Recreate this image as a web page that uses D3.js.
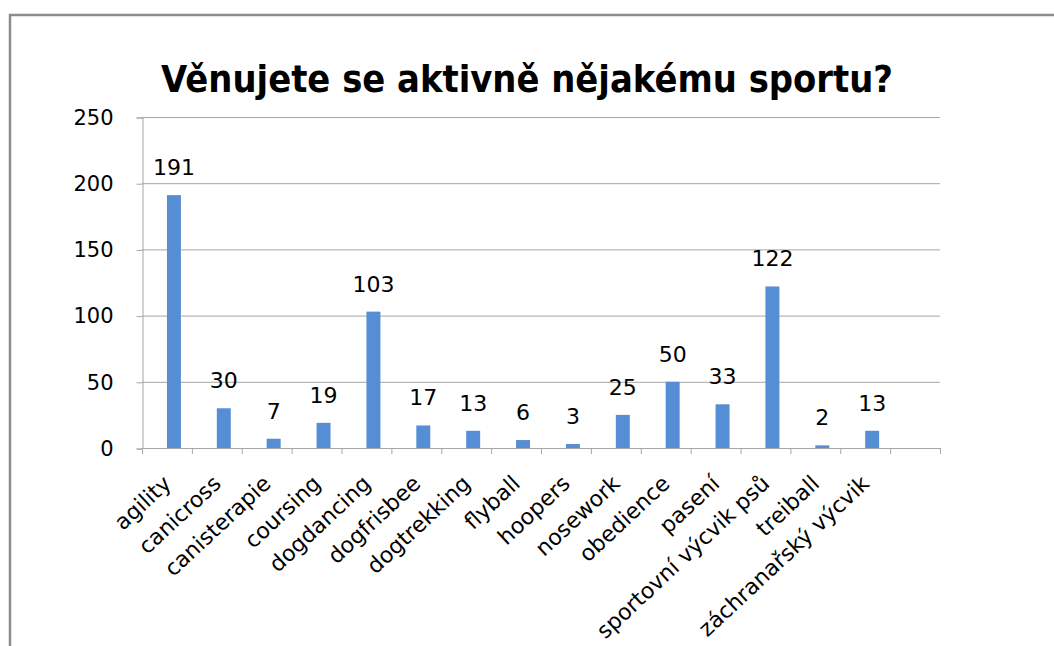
<!DOCTYPE html>
<html>
<head>
<meta charset="utf-8">
<script src="https://cdn.jsdelivr.net/npm/d3@7"></script>
<style>
    body { margin: 0; background: #fff; }
    svg { display: block; }
</style>
</head>
<body>
<div id="chart"></div>
<script>
// chart data
const categories = ['agility', 'canicross', 'canisterapie', 'coursing', 'dogdancing', 'dogfrisbee',
    'dogtrekking', 'flyball', 'hoopers', 'nosework', 'obedience', 'pasení', 'sportovní výcvik psů',
    'treiball', 'záchranařský výcvik', ''];
const counts = [191, 30, 7, 19, 103, 17, 13, 6, 3, 25, 50, 33, 122, 2, 13, null];
const yTicks = [0, 50, 100, 150, 200, 250];
const title = 'Věnujete se aktivně nějakému sportu?';

const data = categories.map((name, i) => ({ name, value: counts[i] }));

const width = 1054;
const height = 646;
const marginTop = 117;
const marginRight = 114;
const marginBottom = 198;
const marginLeft = 142;
const font = 'DejaVu Sans, sans-serif';

const x = d3.scaleBand()
    .domain(categories)
    .range([marginLeft, width - marginRight])
    .padding(0);

const y = d3.scaleLinear()
    .domain([0, 250])
    .range([height - marginBottom, marginTop]);

const svg = d3.select('#chart').append('svg')
    .attr('width', width)
    .attr('height', height)
    .attr('viewBox', [0, 0, width, height]);

// outer frame (top and left edge visible)
svg.append('path')
    .attr('d', `M10,${height}V15H${width}`)
    .attr('fill', 'none')
    .attr('stroke', '#8c8c8c')
    .attr('stroke-width', 2.5);

// title
svg.append('text')
    .attr('x', 527)
    .attr('y', 92)
    .attr('text-anchor', 'middle')
    .attr('font-family', font)
    .attr('font-weight', 'bold')
    .attr('font-size', 38)
    .attr('textLength', 732)
    .attr('lengthAdjust', 'spacingAndGlyphs')
    .attr('fill', '#000')
    .text(title);

// gridlines
svg.append('g')
    .selectAll('line')
    .data(yTicks.filter(t => t > 0))
    .join('line')
    .attr('x1', marginLeft)
    .attr('x2', width - marginRight)
    .attr('y1', d => y(d) + 0.5)
    .attr('y2', d => y(d) + 0.5)
    .attr('stroke', '#a6a6a6')
    .attr('stroke-width', 1);

// y axis
svg.append('g')
    .attr('transform', `translate(${marginLeft + 0.5},0.5)`)
    .call(d3.axisLeft(y).tickValues(yTicks).tickSize(6).tickPadding(23))
    .call(g => g.select('.domain').attr('stroke', '#a6a6a6'))
    .call(g => g.selectAll('.tick line').attr('stroke', '#a6a6a6'))
    .call(g => g.selectAll('.tick text')
        .attr('font-family', font)
        .attr('font-size', 21)
        .attr('fill', '#000'));

// x axis with ticks at band boundaries
const bottom = height - marginBottom;
svg.append('line')
    .attr('x1', marginLeft)
    .attr('x2', width - marginRight + 1)
    .attr('y1', bottom + 0.5)
    .attr('y2', bottom + 0.5)
    .attr('stroke', '#a6a6a6');

svg.append('g')
    .selectAll('line')
    .data(categories.concat(['__end']))
    .join('line')
    .attr('x1', d => (d === '__end' ? width - marginRight : x(d)) + 0.5)
    .attr('x2', d => (d === '__end' ? width - marginRight : x(d)) + 0.5)
    .attr('y1', bottom)
    .attr('y2', bottom + 6)
    .attr('stroke', '#a6a6a6');

// bars (sit in the right half of each band)
const bars = data.filter(d => d.value != null);
const barW = x.bandwidth() * 0.28;

svg.append('g')
    .attr('fill', '#558ed5')
    .selectAll('rect')
    .data(bars)
    .join('rect')
    .attr('x', d => x(d.name) + x.bandwidth() / 2)
    .attr('y', d => y(d.value))
    .attr('width', barW)
    .attr('height', d => y(0) - y(d.value));

// value labels
svg.append('g')
    .selectAll('text')
    .data(bars)
    .join('text')
    .attr('x', d => x(d.name) + x.bandwidth() / 2 + barW / 2)
    .attr('y', d => y(d.value) - 20)
    .attr('text-anchor', 'middle')
    .attr('font-family', font)
    .attr('font-size', 22)
    .attr('fill', '#000')
    .text(d => d.value);

// category labels, rotated
svg.append('g')
    .selectAll('text')
    .data(categories.filter(c => c !== ''))
    .join('text')
    .attr('transform', d => `translate(${x(d) + x.bandwidth() / 2 - 5},${bottom + 26}) rotate(-43)`)
    .attr('text-anchor', 'end')
    .attr('dy', '0.7em')
    .attr('font-family', font)
    .attr('font-size', 22)
    .attr('fill', '#000')
    .text(d => d);
</script>
</body>
</html>
